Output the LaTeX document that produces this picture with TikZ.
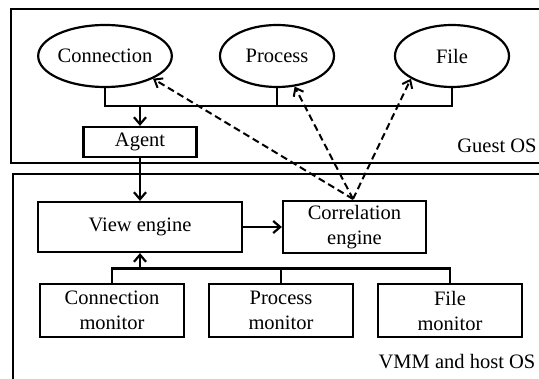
\documentclass[tikz,border=0pt]{standalone}
\usepackage{fontspec}
\setmainfont{Liberation Serif}
\usetikzlibrary{arrows.meta, shapes.geometric, positioning}
\tikzstyle{arrow} = [line width=2.2pt,-{Straight Barb[length=7pt,width=12pt,line width=2.2pt]},draw=black]
\tikzstyle{dasharrow} = [line width=2pt,-{Straight Barb[length=7pt,width=11pt,line width=2pt]},draw=black,dash pattern=on 7pt off 4pt]
\tikzstyle{view} = [ellipse,draw,line width=2.2pt,minimum width=114pt,minimum height=62pt,inner sep=0pt]
\tikzstyle{unit} = [rectangle,draw,line width=2.2pt,inner sep=0pt,align=center]

\begin{document}
\begin{tikzpicture}[x=1pt,y=-1pt,font=\fontsize{20.5}{25}\selectfont,line width=2.2pt]
            \useasboundingbox (0,0) rectangle (539,379);
            % layers
            \draw (11,9) rectangle (560,163);
            \draw (13,174) rectangle (560,420);
            \node (guestlbl) [anchor=east] at (541,146) {Guest OS};
            \node (hostlbl) at (457,362) {VMM and host OS};

            % guest views
            \node (conn) [view] at (105,56) {Connection};
            \node (proc) [view] at (277,56) {Process};
            \node (file) [view] at (452,56) {File};
            \node (agent) [unit, minimum width=113pt, minimum height=30pt] at (140,142) {Agent};

            % host side
            \node (engine) [unit, minimum width=204pt, minimum height=50pt] at (140,227) {View engine};
            \node (corr) [unit, minimum width=143pt, minimum height=52pt] at (354.5,227) {Correlation\\engine};
            \node (cmon) [unit, minimum width=144pt, minimum height=53pt] at (112,310.5) {Connection\\monitor};
            \node (pmon) [unit, minimum width=144pt, minimum height=53pt] at (281,310.5) {Process\\monitor};
            \node (fmon) [unit, minimum width=144pt, minimum height=53pt] at (450,310.5) {File\\monitor};

            \coordinate (bus) at (0,106);
            \coordinate (mbus) at (0,268.5);
            \coordinate (hub) at (353,199);

            \draw (conn.south) -- (conn.south |- bus) -- (file.south |- bus) -- (file.south);
            \draw (proc.south) -- (proc.south |- bus);
            \draw[arrow] (agent.north |- bus) -- (agent.north);
            \draw[arrow] (agent) -- (engine);
            \draw[arrow] (engine) -- (corr);

            \draw (cmon.north) -- (cmon.north |- mbus) -- (fmon.north |- mbus) -- (fmon.north);
            \draw (pmon.north) -- (pmon.north |- mbus);
            \draw[arrow] (engine.south |- mbus) -- (engine.south);

            \draw[dasharrow] (hub) -- (conn.south east);
            \draw[dasharrow] (hub) -- (proc.-60);
            \draw[dasharrow] (hub) -- (file.south west);
            \end{tikzpicture}
\end{document}
